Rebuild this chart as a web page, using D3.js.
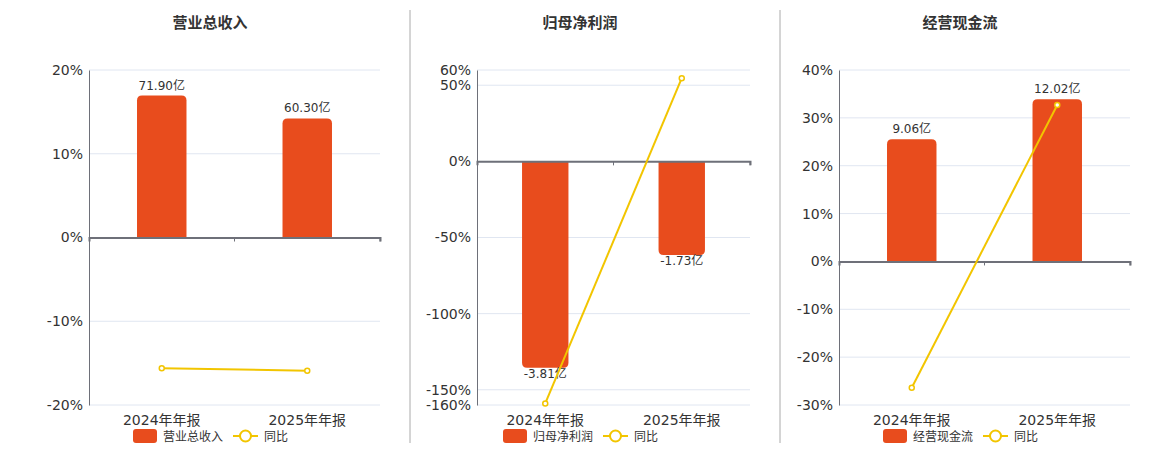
<!DOCTYPE html>
<html>
<head>
<meta charset="utf-8">
<script src="https://cdn.jsdelivr.net/npm/d3@7"></script>
<style>
  body { margin: 0; background: #fff; }
  text { font-family: "DejaVu Sans", "Noto Sans CJK SC", sans-serif; }
</style>
</head>
<body>
<div id="chart"></div>
<script>
// chart data
const periods = ["2024年年报", "2025年年报"];
const titles = ["营业总收入", "归母净利润", "经营现金流"];
const amounts = [[71.90, 60.30], [-3.81, -1.73], [9.06, 12.02]];
const amountLabels = [["71.90亿", "60.30亿"], ["-3.81亿", "-1.73亿"], ["9.06亿", "12.02亿"]];
const yoy = [[-15.6, -15.9], [-159.0, 54.6], [-26.4, 32.7]];
const pctDomains = [[-20, 20], [-160, 60], [-30, 40]];
const pctTicks = [[-20, -10, 0, 10, 20], [-160, -150, -100, -50, 0, 50, 60], [-30, -20, -10, 0, 10, 20, 30, 40]];

const width = 1160, height = 450;
const barColor = "#E84C1D", lineColor = "#F2C500";

let svg = d3.select("#chart").append("svg")
    .attr("width", width)
    .attr("height", height);

// layout of each panel
const panels = [
    { left: 89, right: 380, center: 210 },
    { left: 477, right: 750, center: 580 },
    { left: 839, right: 1130, center: 960 }
];
const plotTop = 70, plotBottom = 405;

// separators
[410, 780].forEach(x => {
    svg.append("line")
        .attr("x1", x).attr("x2", x)
        .attr("y1", 10).attr("y2", 443)
        .attr("stroke", "#aaa").attr("stroke-width", 1);
});

function roundedBar(x, w, y0, y1, r) {
    // rounded corners at the far end of the bar
    let h = Math.abs(y1 - y0);
    r = Math.min(r, h / 2, w / 2);
    if (y1 < y0) {
        return `M${x},${y0} V${y1 + r} Q${x},${y1} ${x + r},${y1} H${x + w - r} Q${x + w},${y1} ${x + w},${y1 + r} V${y0} Z`;
    }
    return `M${x},${y0} V${y1 - r} Q${x},${y1} ${x + r},${y1} H${x + w - r} Q${x + w},${y1} ${x + w},${y1 - r} V${y0} Z`;
}

panels.forEach((p, i) => {
    let g = svg.append("g");

    let yScale = d3.scaleLinear().domain(pctDomains[i]).range([plotBottom, plotTop]);
    let xScale = d3.scaleBand().domain(periods).range([p.left, p.right]);
    let y0 = yScale(0);

    // hidden scale for the amounts, zero aligned with 0%
    let maxAbs = d3.max(amounts[i], d => Math.abs(d)) * 1.18;
    let posExt = y0 - plotTop, negExt = plotBottom - y0;
    let dominant = d3.max(amounts[i]) > 0 ? posExt : negExt;
    let k = maxAbs / dominant;
    let barScale = d3.scaleLinear().domain([-k * negExt, k * posExt]).range([plotBottom, plotTop]);

    // title
    g.append("text")
        .attr("x", p.center).attr("y", 28)
        .attr("text-anchor", "middle")
        .attr("font-size", "15px").attr("font-weight", "bold")
        .attr("fill", "#333")
        .text(titles[i]);

    // grid lines
    g.append("g").selectAll("line")
        .data(pctTicks[i])
        .enter().append("line")
        .attr("x1", p.left).attr("x2", p.right)
        .attr("y1", d => yScale(d)).attr("y2", d => yScale(d))
        .attr("stroke", "#e0e6f1");

    // y axis
    let yAxis = d3.axisLeft(yScale).tickValues(pctTicks[i]).tickFormat(d => d + "%").tickSize(0).tickPadding(6);
    let ya = g.append("g")
        .attr("transform", `translate(${p.left},0)`)
        .call(yAxis);
    ya.select(".domain").attr("stroke", "#6e7079");
    ya.selectAll("text").attr("font-size", "14px").attr("fill", "#333")
        .attr("font-family", "DejaVu Sans, Noto Sans CJK SC, sans-serif");

    // bars
    let bw = xScale.bandwidth() * 0.34;
    g.append("g").selectAll("path")
        .data(amounts[i])
        .enter().append("path")
        .attr("d", (d, j) => {
            let cx = xScale(periods[j]) + xScale.bandwidth() / 2;
            return roundedBar(cx - bw / 2, bw, y0, barScale(d), 5);
        })
        .attr("fill", barColor);

    // bar labels
    g.append("g").selectAll("text")
        .data(amounts[i])
        .enter().append("text")
        .attr("x", (d, j) => xScale(periods[j]) + xScale.bandwidth() / 2)
        .attr("y", d => d >= 0 ? barScale(d) - 6 : barScale(d) + 10)
        .attr("text-anchor", "middle")
        .attr("font-size", "12px")
        .attr("fill", "#333")
        .text((d, j) => amountLabels[i][j]);

    // x axis at zero
    let xAxis = d3.axisBottom(xScale).tickSize(4).tickFormat("");
    let xa = g.append("g")
        .attr("transform", `translate(0,${y0})`)
        .call(xAxis);
    xa.select(".domain").attr("stroke", "#6e7079").attr("stroke-width", 2);
    xa.selectAll(".tick").attr("transform", d => `translate(${xScale(d) + xScale.bandwidth()},0)`);
    xa.selectAll(".tick line").attr("stroke", "#6e7079");

    // category labels
    g.append("g").selectAll("text")
        .data(periods)
        .enter().append("text")
        .attr("x", d => xScale(d) + xScale.bandwidth() / 2)
        .attr("y", 425)
        .attr("text-anchor", "middle")
        .attr("font-size", "14px")
        .attr("fill", "#333")
        .text(d => d);

    // yoy line
    let line = d3.line()
        .x((d, j) => xScale(periods[j]) + xScale.bandwidth() / 2)
        .y(d => yScale(d));
    g.append("path")
        .datum(yoy[i])
        .attr("d", line)
        .attr("fill", "none")
        .attr("stroke", lineColor)
        .attr("stroke-width", 2);
    g.append("g").selectAll("circle")
        .data(yoy[i])
        .enter().append("circle")
        .attr("cx", (d, j) => xScale(periods[j]) + xScale.bandwidth() / 2)
        .attr("cy", d => yScale(d))
        .attr("r", 2.5)
        .attr("fill", "#fff")
        .attr("stroke", lineColor)
        .attr("stroke-width", 1.5);

    // legend
    let lx = p.center - 77;
    let legend = g.append("g").attr("transform", `translate(${lx},436)`);
    legend.append("rect")
        .attr("x", 0).attr("y", -7)
        .attr("width", 24).attr("height", 14)
        .attr("rx", 3)
        .attr("fill", barColor);
    legend.append("text")
        .attr("x", 30).attr("y", 4.5)
        .attr("font-size", "12px").attr("fill", "#333")
        .text(titles[i]);
    legend.append("line")
        .attr("x1", 100).attr("x2", 125)
        .attr("y1", 0).attr("y2", 0)
        .attr("stroke", lineColor).attr("stroke-width", 2);
    legend.append("circle")
        .attr("cx", 112.5).attr("cy", 0).attr("r", 5.5)
        .attr("fill", "#fff")
        .attr("stroke", lineColor).attr("stroke-width", 2);
    legend.append("text")
        .attr("x", 131).attr("y", 4.5)
        .attr("font-size", "12px").attr("fill", "#333")
        .text("同比");
});
</script>
</body>
</html>
